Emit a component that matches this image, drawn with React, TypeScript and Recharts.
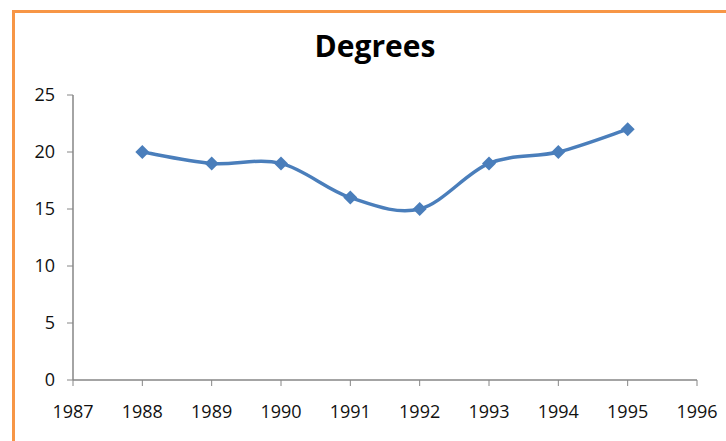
import React from "react";
import { LineChart, Line, XAxis, YAxis } from "recharts";

const years = [1988, 1989, 1990, 1991, 1992, 1993, 1994, 1995];
const degrees = [20, 19, 19, 16, 15, 19, 20, 22];
const xTicks = [1987, 1988, 1989, 1990, 1991, 1992, 1993, 1994, 1995, 1996];
const yTicks = [0, 5, 10, 15, 20, 25];

const data = years.map((year, i) => ({ year, value: degrees[i] }));

const BLUE = "#4A7EBB";
const AXIS = "#868686";
const FONT = "'Open Sans', sans-serif";

// Excel-style smoothed curve (Catmull-Rom as cubic Bezier)
function excelCurve(context: any) {
  let pts: number[][] = [];
  return {
    areaStart() {},
    areaEnd() {},
    lineStart() {
      pts = [];
    },
    point(x: number, y: number) {
      pts.push([+x, +y]);
    },
    lineEnd() {
      if (!pts.length) return;
      context.moveTo(pts[0][0], pts[0][1]);
      for (let i = 0; i < pts.length - 1; i++) {
        const p0 = pts[i - 1] || pts[i];
        const p1 = pts[i];
        const p2 = pts[i + 1];
        const p3 = pts[i + 2] || p2;
        context.bezierCurveTo(
          p1[0] + (p2[0] - p0[0]) / 6,
          p1[1] + (p2[1] - p0[1]) / 6,
          p2[0] - (p3[0] - p1[0]) / 6,
          p2[1] - (p3[1] - p1[1]) / 6,
          p2[0],
          p2[1]
        );
      }
    },
  };
}

const Diamond = (props: any) => {
  const { cx, cy } = props;
  if (cx == null || cy == null) return null;
  const r = 7;
  return (
    <polygon
      points={`${cx},${cy - r} ${cx + r},${cy} ${cx},${cy + r} ${cx - r},${cy}`}
      fill={BLUE}
      stroke="none"
    />
  );
};

export default function App() {
  return (
    <div
      style={{
        position: "absolute",
        left: 0,
        top: 0,
        width: 726,
        height: 441,
        overflow: "hidden",
        background: "#fff",
      }}
    >
      <div
        style={{
          position: "absolute",
          left: 12,
          top: 10,
          width: 800,
          height: 500,
          border: "3px solid #F79646",
          boxSizing: "border-box",
        }}
      />
      <svg
        width={726}
        height={441}
        style={{ position: "absolute", left: 0, top: 0 }}
      >
        <text
          x={375}
          y={57}
          textAnchor="middle"
          fontFamily={FONT}
          fontWeight="bold"
          fontSize={30}
          fill="#000"
        >
          Degrees
        </text>
      </svg>
      <div style={{ position: "absolute", left: 0, top: 0 }}>
        <LineChart
          width={726}
          height={441}
          data={data}
          margin={{ top: 95, right: 29, bottom: 31, left: 0 }}
        >
          <XAxis
            dataKey="year"
            type="number"
            domain={[1987, 1996]}
            ticks={xTicks}
            interval={0}
            allowDecimals={false}
            stroke={AXIS}
            tickSize={6}
            tickMargin={19}
            height={30}
            tick={{ fill: "#111", fontSize: 18, fontFamily: FONT }}
            tickLine={{ stroke: AXIS }}
            axisLine={{ stroke: AXIS, strokeWidth: 1.5 }}
          />
          <YAxis
            type="number"
            domain={[0, 25]}
            ticks={yTicks}
            interval={0}
            width={73}
            stroke={AXIS}
            tickSize={6}
            tickMargin={12}
            tick={{ fill: "#111", fontSize: 18, fontFamily: FONT }}
            tickLine={{ stroke: AXIS }}
            axisLine={{ stroke: AXIS, strokeWidth: 1.5 }}
          />
          <Line
            dataKey="value"
            type={excelCurve as any}
            stroke={BLUE}
            strokeWidth={3.5}
            dot={<Diamond />}
            activeDot={false}
            isAnimationActive={false}
          />
        </LineChart>
      </div>
    </div>
  );
}
